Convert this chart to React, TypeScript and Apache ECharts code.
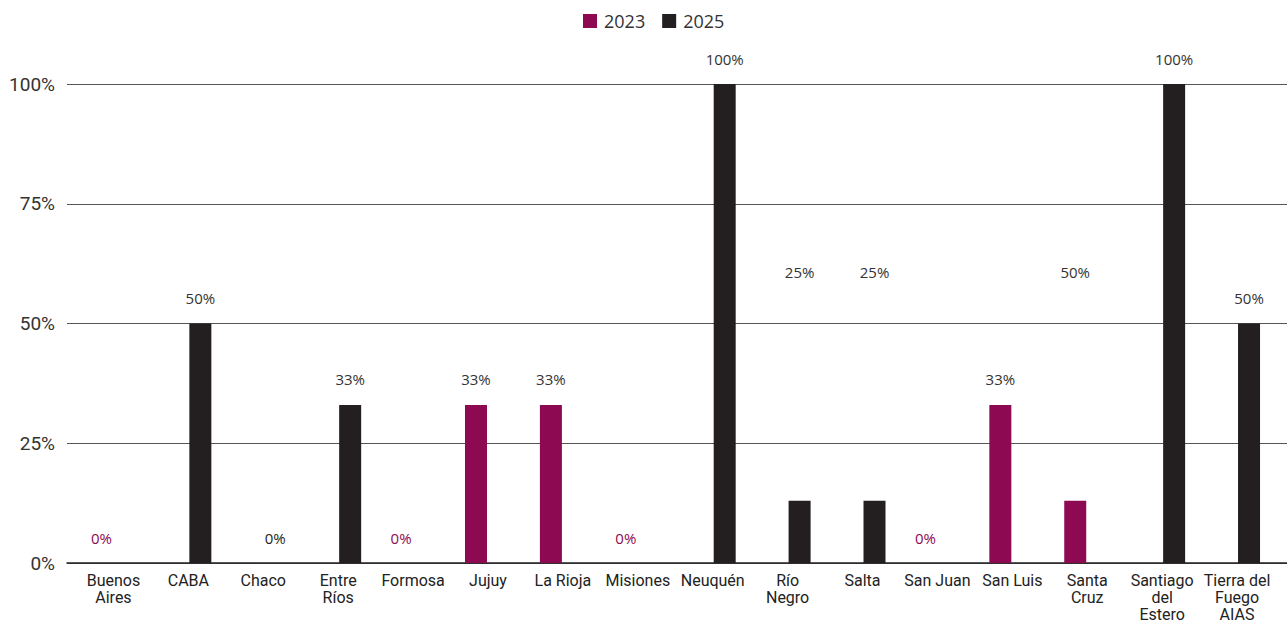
import React, { useEffect, useRef } from "react";
import * as echarts from "echarts";

const categories = [
  "Buenos\nAires", "CABA", "Chaco", "Entre\nRíos", "Formosa", "Jujuy", "La Rioja", "Misiones",
  "Neuquén", "Río\nNegro", "Salta", "San Juan", "San Luis", "Santa\nCruz", "Santiago\ndel\nEstero", "Tierra del\nFuego\nAIAS",
];
const series2023 = [0, null, null, null, 0, 33, 33, 0, null, null, null, 0, 33, 13, null, null];
const series2025 = [null, 50, 0, 33, null, null, null, null, 100, 13, 13, null, null, null, 100, 50];
const labels2023 = ["0%", "", "", "", "0%", "33%", "33%", "0%", "", "", "", "0%", "33%", "50%", "", ""];
const labels2025 = ["", "50%", "0%", "33%", "", "", "", "", "100%", "25%", "25%", "", "", "", "100%", "50%"];
// level (in % units) at which each label sits
const labelLevel2023 = [0, null, null, null, 0, 33, 33, 0, null, null, null, 0, 33, 55.5, null, null];
const labelLevel2025 = [null, 50, 0, 33, null, null, null, null, 100, 55.5, 55.5, null, null, null, 100, 50];
const yTicks = [0, 25, 50, 75, 100];

const COLOR_2023 = "#8d0a52";
const COLOR_2025 = "#231f20";
const TOP = 84;
const BOTTOM = 60;
const HEIGHT = 623;

export default function App() {
  const ref = useRef<HTMLDivElement>(null);
  useEffect(() => {
    if (!ref.current) return;
    const chart = echarts.init(ref.current, null, { renderer: "svg" });
    const pxPerUnit = (HEIGHT - TOP - BOTTOM) / 100;
    const build = (vals: (number | null)[], texts: string[], levels: (number | null)[], color: string) =>
      vals.map((v, i) => {
        if (v === null) return { value: null, label: { show: false } };
        const lv = levels[i] ?? v;
        return {
          value: v,
          label: {
            show: texts[i] !== "",
            formatter: texts[i],
            color: v === 0 ? color : "#333333",
            offset: [0, -(lv - v) * pxPerUnit],
          },
        };
      });
    const labelBase = {
      show: true,
      position: "top",
      distance: 18,
      fontFamily: "Open Sans",
      fontSize: 15,
    };
    chart.setOption({
      animation: false,
      legend: {
        top: 7,
        left: 578,
        itemWidth: 14,
        itemHeight: 14,
        itemGap: 17,
        icon: "rect",
        textStyle: { fontFamily: "Open Sans", fontSize: 18, color: "#333", padding: [0, 0, 0, 2] },
        data: ["2023", "2025"],
      },
      grid: [
        { left: 67, right: 0, top: TOP, bottom: BOTTOM },
        { left: 76, right: 12.5, top: TOP, bottom: BOTTOM },
      ],
      xAxis: [
        {
          gridIndex: 0,
          type: "category",
          data: [""],
          axisLine: { show: true, lineStyle: { color: "#222", width: 1.5 } },
          axisTick: { show: false },
          axisLabel: { show: false },
        },
        {
          gridIndex: 1,
          type: "category",
          data: categories,
          axisLine: { show: false },
          axisTick: { show: false },
          axisLabel: {
            interval: 0,
            margin: 9,
            fontFamily: "Roboto",
            fontSize: 16,
            lineHeight: 17,
            color: "#222",
          },
        },
      ],
      yAxis: [
        {
          gridIndex: 0,
          type: "value",
          min: yTicks[0],
          max: yTicks[yTicks.length - 1],
          interval: yTicks[1] - yTicks[0],
          axisLine: { show: false },
          axisTick: { show: false },
          axisLabel: {
            formatter: "{value}%",
            margin: 12,
            fontFamily: "Roboto",
            fontSize: 19,
            color: "#333",
          },
          splitLine: { show: true, lineStyle: { color: "#555", width: 1 } },
        },
        {
          gridIndex: 1,
          type: "value",
          min: 0,
          max: 100,
          show: false,
          splitLine: { show: false },
        },
      ],
      series: [
        {
          name: "2023",
          type: "bar",
          xAxisIndex: 1,
          yAxisIndex: 1,
          barWidth: 22,
          barGap: "9%",
          itemStyle: { color: COLOR_2023 },
          label: labelBase,
          data: build(series2023, labels2023, labelLevel2023, COLOR_2023),
        },
        {
          name: "2025",
          type: "bar",
          xAxisIndex: 1,
          yAxisIndex: 1,
          barWidth: 22,
          barGap: "9%",
          itemStyle: { color: COLOR_2025 },
          label: labelBase,
          data: build(series2025, labels2025, labelLevel2025, COLOR_2025),
        },
      ],
    });
    return () => chart.dispose();
  }, []);
  return <div ref={ref} style={{ width: 1287, height: 623, position: "absolute", left: 0, top: 0 }} />;
}
